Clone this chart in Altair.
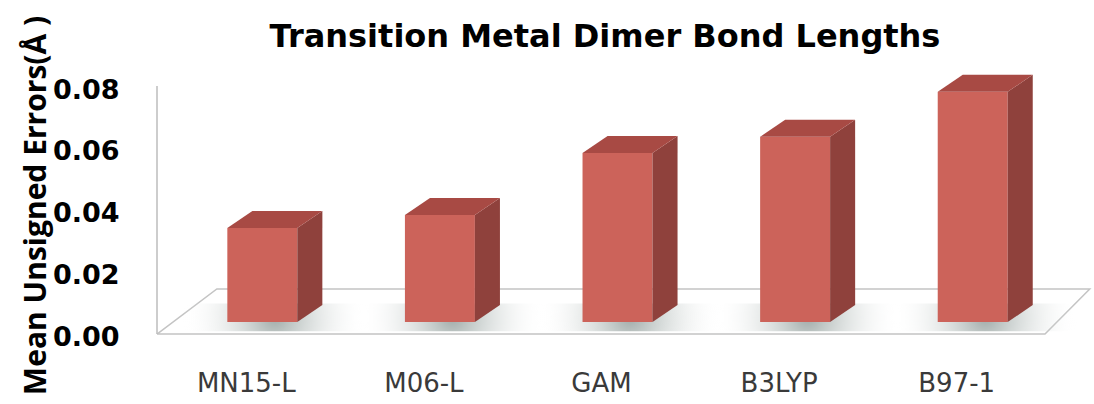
import altair as alt
import pandas as pd

# ---- data ----
methods = ["MN15-L", "M06-L", "GAM", "B3LYP", "B97-1"]
errors = [0.0305, 0.0347, 0.0548, 0.0600, 0.0746]
tick_values = [0.00, 0.02, 0.04, 0.06, 0.08]
title_text = "Transition Metal Dimer Bond Lengths"
y_title = "Mean Unsigned Errors(Å )"

# ---- 3D look (category units on x, value units on y) ----
FRONT_L = -0.104      # front face left edge relative to category
FRONT_W = 0.394       # front face width
DEPTH_X = 0.141       # oblique depth, x
DEPTH_Y = 0.0055      # oblique depth, y
FLOOR_FRONT = -0.0039
FLOOR_BACK = 0.0107
FLOOR_BACK_SHIFT_L = 0.337
FLOOR_BACK_SHIFT_R = 0.252
AXIS_TOP = 0.0765

PLOT_W, PLOT_H = 937, 275
X_DOMAIN = [-0.5, -0.5 + PLOT_W / 177.6]
Y_DOMAIN = [-0.00421, 0.0849]

n = len(methods)
bars = pd.DataFrame({"method": methods, "value": errors, "i": list(range(n))})
bars["xl"] = bars["i"] + FRONT_L
bars["xr"] = bars["xl"] + FRONT_W

# side face (vertical area, two points per bar)
side_rows = []
for _, r in bars.iterrows():
    side_rows.append({"method": r.method, "x": r.xr, "y": 0.0, "y2": r.value})
    side_rows.append({"method": r.method, "x": r.xr + DEPTH_X, "y": DEPTH_Y, "y2": r.value + DEPTH_Y})
side = pd.DataFrame(side_rows)

# top face (horizontal area, two points per bar)
top_rows = []
for _, r in bars.iterrows():
    top_rows.append({"method": r.method, "y": r.value, "x": r.xl, "x2": r.xr})
    top_rows.append({"method": r.method, "y": r.value + DEPTH_Y, "x": r.xl + DEPTH_X, "x2": r.xr + DEPTH_X})
top = pd.DataFrame(top_rows)

# shadows under bars
shadow = pd.DataFrame({
    "method": methods,
    "x": bars["xl"] - 0.25,
    "x2": bars["xr"] + DEPTH_X + 0.25,
    "y": [-0.0030] * n,
    "y2": [0.0060] * n,
})

# floor outline
floor = pd.DataFrame({
    "k": [0, 1, 2, 3, 4],
    "x": [-0.5, n - 0.5, n - 0.5 + FLOOR_BACK_SHIFT_R, -0.5 + FLOOR_BACK_SHIFT_L, -0.5],
    "y": [FLOOR_FRONT, FLOOR_FRONT, FLOOR_BACK, FLOOR_BACK, FLOOR_FRONT],
})

label_expr = "[" + ",".join("'" + m + "'" for m in methods) + "][datum.value]"

xscale = alt.Scale(domain=X_DOMAIN, nice=False, zero=False)
yscale = alt.Scale(domain=Y_DOMAIN, nice=False, zero=False)

x_axis = alt.Axis(
    values=list(range(n)), labelExpr=label_expr, title=None, grid=False,
    domain=False, ticks=False, labelFont="DejaVu Sans", labelFontSize=26,
    labelColor="#3a3a3a", labelPadding=48, labelBaseline="middle",
    labelFlush=False, labelOverlap=False,
)
y_axis = alt.Axis(
    values=tick_values, format=".2f", grid=False, ticks=False, tickSize=0,
    domain=False,
    labelFont="DejaVu Sans", labelFontSize=27, labelFontWeight="bold",
    labelColor="#000000", labelPadding=38, labelOffset=15,
    labelFlush=False, labelOverlap=False,
    title=y_title, titleFont="Open Sans", titleFontSize=30, titleFontWeight="bold",
    titleColor="#000000", titleAngle=270, titleX=-112, titleY=145,
    titleAlign="center", titleBaseline="alphabetic",
)

floor_layer = alt.Chart(floor).mark_line(color="#c4c4c4", strokeWidth=1.5).encode(
    x=alt.X("x:Q", scale=xscale, axis=x_axis),
    y=alt.Y("y:Q", scale=yscale, axis=y_axis),
    order="k:Q",
)

axis_line = alt.Chart(pd.DataFrame({"a": [0]})).mark_rule(
    color="#bdbdbd", strokeWidth=1.5
).encode(x=alt.datum(-0.5), y=alt.datum(FLOOR_FRONT), y2=alt.datum(AXIS_TOP))

shadow_layer = alt.Chart(shadow).mark_rect(
    color=alt.Gradient(
        gradient="radial",
        stops=[
            alt.GradientStop(offset=0, color="rgba(80,100,95,0.55)"),
            alt.GradientStop(offset=1, color="rgba(255,255,255,0)"),
        ],
    )
).encode(x="x:Q", x2="x2:Q", y="y:Q", y2="y2:Q")

front_layer = alt.Chart(bars).mark_rect(color="#cc635a").encode(
    x="xl:Q", x2="xr:Q", y=alt.Y("value:Q"), y2=alt.datum(0)
)

side_layer = alt.Chart(side).mark_area(color="#8f413c", orient="vertical").encode(
    x="x:Q", y="y:Q", y2="y2:Q", detail="method:N"
)

top_layer = alt.Chart(top).mark_area(color="#a84a44", orient="horizontal").encode(
    y="y:Q", x="x:Q", x2="x2:Q", detail="method:N"
)

title_layer = alt.Chart(pd.DataFrame({"t": [title_text]})).mark_text(
    font="DejaVu Sans", fontSize=32, fontWeight="bold", color="#000000",
    align="center", baseline="alphabetic",
).encode(text="t:N", x=alt.value(448), y=alt.value(-13))

chart = alt.layer(
    floor_layer, axis_line, shadow_layer, front_layer, side_layer, top_layer, title_layer
).properties(
    width=PLOT_W,
    height=PLOT_H,
    autosize=alt.AutoSizeParams(type="none"),
    padding={"left": 157, "top": 60, "right": 0, "bottom": 69},
    background="#ffffff",
).configure_view(strokeWidth=0)

chart.save("out.html", embed_options={"renderer": "svg", "actions": False})
